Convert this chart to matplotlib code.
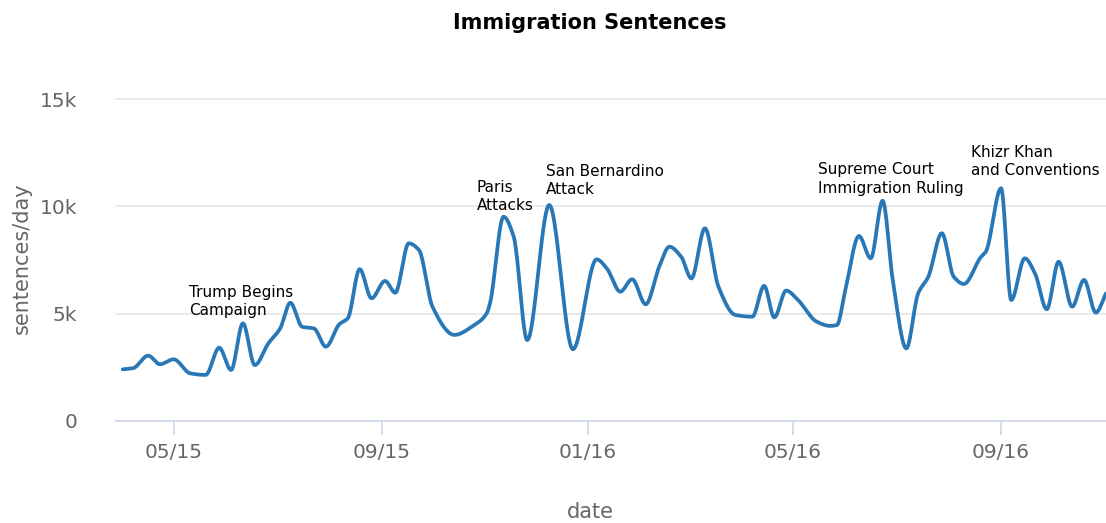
import matplotlib
matplotlib.use("Agg")
import matplotlib.pyplot as plt
import matplotlib.dates as mdates
import numpy as np

# ---- data ----
dates = ["2015-04-01", "2015-04-07", "2015-04-16", "2015-04-23", "2015-05-01", "2015-05-11",
         "2015-05-20", "2015-05-28", "2015-06-04", "2015-06-11", "2015-06-18", "2015-06-26",
         "2015-07-03", "2015-07-09", "2015-07-16", "2015-07-23", "2015-07-30", "2015-08-07",
         "2015-08-12", "2015-08-19", "2015-08-26", "2015-09-03", "2015-09-09", "2015-09-17",
         "2015-09-23", "2015-10-01", "2015-10-14", "2015-10-25", "2015-11-02", "2015-11-04",
         "2015-11-12", "2015-11-18", "2015-11-26", "2015-12-09", "2015-12-23", "2016-01-06",
         "2016-01-12", "2016-01-20", "2016-01-27", "2016-02-04", "2016-02-12", "2016-02-18",
         "2016-02-25", "2016-03-02", "2016-03-10", "2016-03-18", "2016-03-28", "2016-04-07",
         "2016-04-14", "2016-04-20", "2016-04-27", "2016-05-04", "2016-05-15", "2016-05-23",
         "2016-05-27", "2016-06-01", "2016-06-09", "2016-06-16", "2016-06-23", "2016-06-29",
         "2016-07-07", "2016-07-14", "2016-07-20", "2016-07-28", "2016-08-04", "2016-08-10",
         "2016-08-20", "2016-08-23", "2016-09-01", "2016-09-07", "2016-09-15", "2016-09-21",
         "2016-09-28", "2016-10-05", "2016-10-13", "2016-10-20", "2016-10-27", "2016-11-02"]

sentences = [2390, 2440, 3030, 2630, 2860, 2200, 2130, 3400, 2360, 4540,
             2590, 3600, 4300, 5500, 4380, 4300, 3450, 4500, 4780, 7070,
             5710, 6520, 5970, 8280, 7970, 5320, 4000, 4420, 5000, 5480,
             9520, 8590, 3760, 10070, 3330, 7530, 7110, 6020, 6600, 5430,
             7190, 8120, 7650, 6640, 8980, 6250, 4930, 4850, 6290, 4820,
             6070, 5630, 4620, 4420, 4460, 6100, 8620, 7580, 10270, 6570,
             3370, 5940, 6720, 8750, 6720, 6380, 7630, 7890, 10850, 5630,
             7580, 6880, 5200, 7420, 5320, 6570, 5040, 5940]

tick_dates = ["2015-05-01", "2015-09-01", "2016-01-01", "2016-05-01", "2016-09-01"]
tick_labels = ["05/15", "09/15", "01/16", "05/16", "09/16"]
ytick_values = [0, 5000, 10000, 15000]
ytick_labels = ["0", "5k", "10k", "15k"]

event_labels = ["Trump Begins\nCampaign", "Paris\nAttacks", "San Bernardino\nAttack",
                "Supreme Court\nImmigration Ruling", "Khizr Khan\nand Conventions"]
event_dates = ["2015-05-10", "2015-10-27", "2015-12-07", "2016-05-16", "2016-08-14"]
event_tops = [6350, 11250, 12000, 12080, 12880]


def pchip(x, y, xn):
    x = np.asarray(x, float)
    y = np.asarray(y, float)
    h = np.diff(x)
    d = np.diff(y) / h
    n = len(x)
    m = np.zeros(n)
    for k in range(1, n - 1):
        if d[k - 1] * d[k] <= 0:
            m[k] = 0.0
        else:
            w1 = 2 * h[k] + h[k - 1]
            w2 = h[k] + 2 * h[k - 1]
            m[k] = (w1 + w2) / (w1 / d[k - 1] + w2 / d[k])
    m[0] = d[0]
    m[-1] = d[-1]
    idx = np.clip(np.searchsorted(x, xn) - 1, 0, n - 2)
    hh = h[idx]
    t = (xn - x[idx]) / hh
    h00 = 2 * t**3 - 3 * t**2 + 1
    h10 = t**3 - 2 * t**2 + t
    h01 = -2 * t**3 + 3 * t**2
    h11 = t**3 - t**2
    return h00 * y[idx] + h10 * hh * m[idx] + h01 * y[idx + 1] + h11 * hh * m[idx + 1]


def dnum(lst):
    return mdates.date2num(np.array(lst, dtype="datetime64[D]"))


W, H = 1106, 523
fig = plt.figure(figsize=(W / 100, H / 100), dpi=100)
ax = fig.add_axes([116 / W, 1 - 420.5 / H, 1 - 116 / W, (420.5 - 99.5) / H])

xd = dnum(dates)
yv = np.array(sentences, float)
xs = np.linspace(xd[0], xd[-1], 4000)
ys = pchip(xd, yv, xs)
ax.plot(xs, ys, color="#2878b8", lw=2.7, solid_capstyle="round", zorder=3)

ax.set_xlim(dnum(["2015-03-28"])[0], xd[-1])
ax.set_ylim(0, 15000)

ax.set_yticks(ytick_values)
ax.set_yticklabels(ytick_labels)
ax.set_xticks(dnum(tick_dates))
ax.set_xticklabels(tick_labels)

for s in ["top", "right", "left"]:
    ax.spines[s].set_visible(False)
ax.spines["bottom"].set_color("#ccd6eb")
ax.spines["bottom"].set_linewidth(1.2)

ax.grid(axis="y", color="#e6e6e6", lw=1.2)
for gl in ax.get_ygridlines():
    gl.set_clip_on(False)
ax.set_axisbelow(True)

ax.tick_params(axis="y", length=0, pad=28, labelsize=14.5, labelcolor="#666666")
ax.tick_params(axis="x", length=10, color="#ccd6eb", width=1.2, pad=6,
               labelsize=14.5, labelcolor="#666666")

for lab, d, top in zip(event_labels, event_dates, event_tops):
    ax.text(dnum([d])[0], top, lab, ha="left", va="top", fontsize=11,
            color="#000000", linespacing=1.3, zorder=4)

fig.text(590 / W, 1 - 23 / H, "Immigration Sentences", ha="center", va="center",
         fontsize=15, fontweight="bold", color="#000000")
fig.text(590 / W, 1 - 512 / H, "date", ha="center", va="center", fontsize=15,
         color="#666666")
fig.text(22 / W, 1 - 258 / H, "sentences/day", ha="center", va="center", fontsize=15,
         color="#666666", rotation=90)

fig.savefig("out.png", dpi=100)
